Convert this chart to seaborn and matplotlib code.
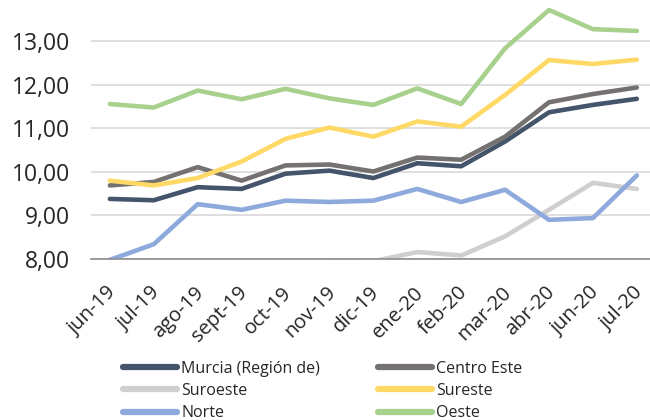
import pandas as pd
import matplotlib
matplotlib.use("Agg")
import matplotlib.pyplot as plt
import matplotlib.transforms as mtransforms
import seaborn as sns
from matplotlib.lines import Line2D

months = ["jun-19", "jul-19", "ago-19", "sept-19", "oct-19", "nov-19", "dic-19",
          "ene-20", "feb-20", "mar-20", "abr-20", "jun-20", "jul-20"]

murcia = [9.38, 9.35, 9.65, 9.61, 9.96, 10.03, 9.86, 10.20, 10.13, 10.70, 11.37, 11.54, 11.68]
centro_este = [9.69, 9.77, 10.11, 9.80, 10.15, 10.17, 10.01, 10.33, 10.28, 10.81, 11.60, 11.79, 11.94]
suroeste = [7.50, 7.60, 7.70, 7.80, 7.88, 7.96, 7.95, 8.16, 8.08, 8.52, 9.13, 9.75, 9.61]
sureste = [9.80, 9.69, 9.86, 10.24, 10.76, 11.02, 10.81, 11.16, 11.04, 11.77, 12.57, 12.48, 12.58]
norte = [7.98, 8.34, 9.26, 9.13, 9.34, 9.31, 9.34, 9.61, 9.31, 9.59, 8.90, 8.94, 9.92]
oeste = [11.56, 11.48, 11.87, 11.67, 11.91, 11.69, 11.54, 11.92, 11.56, 12.84, 13.72, 13.28, 13.24]

series = ["Murcia (Región de)", "Centro Este", "Suroeste", "Sureste", "Norte", "Oeste"]
colors = ["#44546A", "#767171", "#D0CECE", "#FFD966", "#8EA9DB", "#A9D18E"]

df = pd.concat([
    pd.DataFrame({"mes": months, "valor": v, "serie": name})
    for name, v in zip(series, [murcia, centro_este, suroeste, sureste, norte, oeste])
])

sns.set_style("white")
plt.rcParams["font.family"] = ["Open Sans", "DejaVu Sans"]

fig = plt.figure(figsize=(6.5, 4.2), dpi=100)
ax = fig.add_axes([91 / 650, 161 / 420, 559 / 650, 259 / 420])

sns.lineplot(data=df, x="mes", y="valor", hue="serie", hue_order=series,
             palette=dict(zip(series, colors)), sort=False, linewidth=3.3,
             legend=False, ax=ax)
for ln in ax.get_lines():
    ln.set_solid_capstyle("round")
    ln.set_solid_joinstyle("round")

ax.set_xlim(-0.43, 12.3)
ax.set_ylim(8, 13.95)
ax.set_yticks([8, 9, 10, 11, 12, 13])
ax.set_yticklabels(["8,00", "9,00", "10,00", "11,00", "12,00", "13,00"])
ax.grid(axis="y", color="#D9D9D9", linewidth=1.2)
ax.set_axisbelow(True)
for s in ["top", "right", "left"]:
    ax.spines[s].set_visible(False)
ax.spines["bottom"].set_color("#8C8C8C")
ax.spines["bottom"].set_linewidth(1.2)
ax.tick_params(axis="y", length=0, pad=15, labelsize=16.5)
ax.tick_params(axis="x", length=0, pad=17, labelsize=14.5)
shift = mtransforms.ScaledTranslation(-4 / 100, 0, fig.dpi_scale_trans)
for lab in ax.get_xticklabels():
    lab.set_rotation(45)
    lab.set_ha("right")
    lab.set_rotation_mode("anchor")
    lab.set_transform(lab.get_transform() + shift)
ax.set_xlabel("")
ax.set_ylabel("")

handles = [Line2D([], [], color=c, linewidth=4.5, solid_capstyle="round") for c in colors]
order = [0, 2, 4, 1, 3, 5]
fig.legend([handles[i] for i in order], [series[i] for i in order],
           ncol=2, loc="upper left", bbox_to_anchor=(115 / 650, 1 - 353 / 420),
           frameon=False, fontsize=11.5, handlelength=3.4, handletextpad=0.25,
           columnspacing=3.6, labelspacing=0.38, borderpad=0)

plt.savefig("out.png", dpi=100)
